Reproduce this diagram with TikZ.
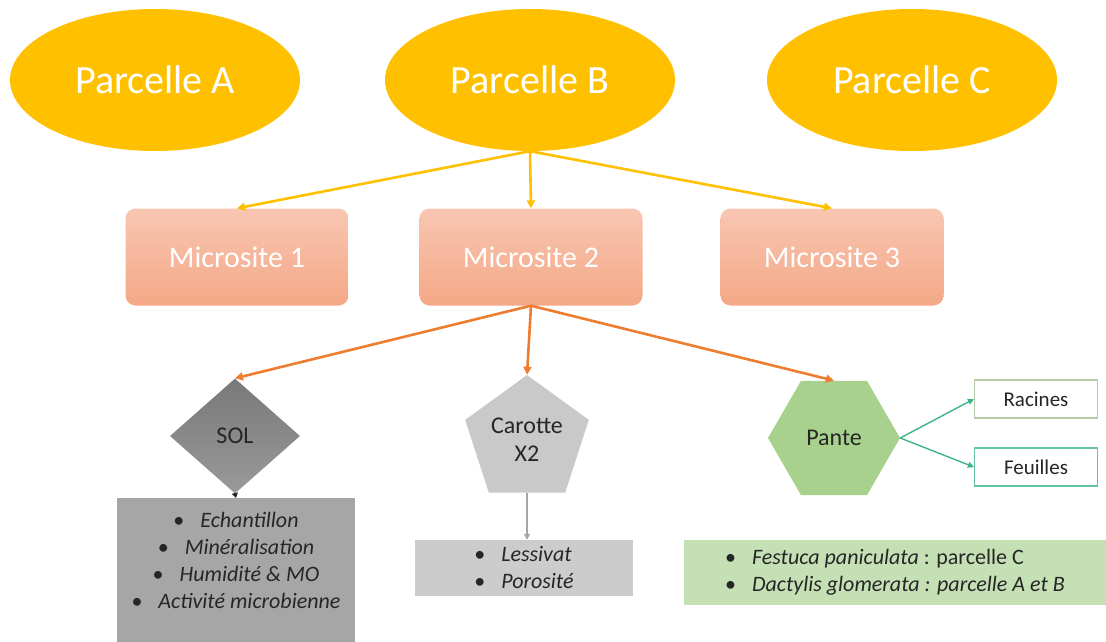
\documentclass[tikz,border=0pt]{standalone}
\usepackage{fontspec}
\setmainfont{Carlito}
\usetikzlibrary{shapes.geometric,arrows.meta}

\definecolor{gold}{HTML}{FFC000}
\definecolor{saumonhaut}{HTML}{F8C6B2}
\definecolor{saumonbas}{HTML}{F4A886}
\definecolor{orangef}{HTML}{ED7D31}
\definecolor{grisfonce}{HTML}{8E8E8E}
\definecolor{grismoyen}{HTML}{A6A6A6}
\definecolor{grisclair}{HTML}{C9C9C9}
\definecolor{vertfonce}{HTML}{A9D18E}
\definecolor{vertclair}{HTML}{C5E0B4}
\definecolor{vertfleche}{HTML}{3DB586}
\definecolor{texte}{HTML}{262626}

\begin{document}
\begin{tikzpicture}[x=1pt,y=-1pt,
    parcelle/.style={ellipse, fill=gold, text=white, minimum width=290, minimum height=142, inner sep=0, font=\fontsize{40}{44}\selectfont},
    microsite/.style={rectangle, rounded corners=10pt, top color=saumonhaut, bottom color=saumonbas, text=white, minimum width=223, minimum height=97, font=\fontsize{30}{34}\selectfont},
    forme/.style={text=texte, inner sep=0, font=\fontsize{24}{28}\selectfont, align=center},
    liste/.style={rectangle, text=texte, inner sep=0, font=\fontsize{22}{27}\selectfont},
    organe/.style={rectangle, fill=white, line width=1.2pt, text=texte, minimum width=123, minimum height=38, font=\fontsize{21}{25}\selectfont},
    jaune/.style={draw=gold, line width=2.6pt, -{Triangle[length=8pt,width=8pt]}},
    orange/.style={draw=orangef, line width=2.6pt, -{Triangle[length=8pt,width=8pt]}},
    gris/.style={draw=grismoyen, line width=1.4pt, -{Triangle[length=6pt,width=6pt]}},
    vert/.style={draw=vertfleche, line width=1.4pt, -{Triangle[length=6pt,width=6pt]}}]
    \useasboundingbox (0,0) rectangle (1106,642);

    % parcelles
    \node[parcelle] (parcA) at (155,80) {Parcelle A};
    \node[parcelle] (parcB) at (530,80) {Parcelle B};
    \node[parcelle] (parcC) at (912,80) {Parcelle C};

    % microsites
    \node[microsite] (micro1) at (237,257) {Microsite 1};
    \node[microsite] (micro2) at (531,257) {Microsite 2};
    \node[microsite] (micro3) at (832,257) {Microsite 3};

    % prelevements
    \node[forme, diamond, top color=grisfonce!85!black, bottom color=grisfonce!90!white, minimum width=130, minimum height=115] (sol) at (235,436) {SOL};
    \node[forme, regular polygon, regular polygon sides=5, fill=grisclair, minimum size=130] (carotte) at (527,440) {Carotte\\X2};
    \node[forme, regular polygon, regular polygon sides=6, fill=vertfonce, minimum size=132] (plante) at (834,438) {Pante};

    \node[organe, draw=vertclair!80!gray] (racines) at (1036,399) {Racines};
    \node[organe, draw=vertfleche!80!white] (feuilles) at (1036,467) {Feuilles};

    % listes
    \node[liste, fill=grismoyen, minimum width=238, minimum height=144, anchor=north] (solList) at (236,498) {};
    \node[liste, align=center] (solText) at (236,560) {\textbullet\hspace{16pt}\textit{Echantillon}\\
        \textbullet\hspace{16pt}\textit{Minéralisation}\\
        \textbullet\hspace{16pt}\textit{Humidité \& MO}\\
        \textbullet\hspace{16pt}\textit{Activité microbienne}};
    \node[liste, fill=grisclair!95!white, minimum width=218, minimum height=56, align=left] (carList) at (524,568) {\textbullet\hspace{16pt}\textit{Lessivat}\\
        \textbullet\hspace{16pt}\textit{Porosité}};
    \node[liste, fill=vertclair, minimum width=422, minimum height=65, align=left] (plaList) at (895,572) {\textbullet\hspace{16pt}\textit{Festuca paniculata} : parcelle C\\
        \textbullet\hspace{16pt}\textit{Dactylis glomerata : parcelle A et B}};

    % fleches
    \draw[jaune] (parcB.south) -- (micro1.north);
    \draw[jaune] (parcB.south) -- (micro2.north);
    \draw[jaune] (parcB.south) -- (micro3.north);
    \draw[orange] (micro2.south) -- (sol.north);
    \draw[orange] (micro2.south) -- (carotte.north);
    \draw[orange] (micro2.south) -- (plante.north);
    \draw[draw=texte, line width=1pt, -{Triangle[length=5pt,width=6pt]}] (sol.south) -- (solList.north);
    \draw[gris] (carotte.south) -- (carotte.south |- carList.north);
    \draw[vert] (plante.east) -- (racines.west);
    \draw[vert] (plante.east) -- (feuilles.west);
\end{tikzpicture}
\end{document}
